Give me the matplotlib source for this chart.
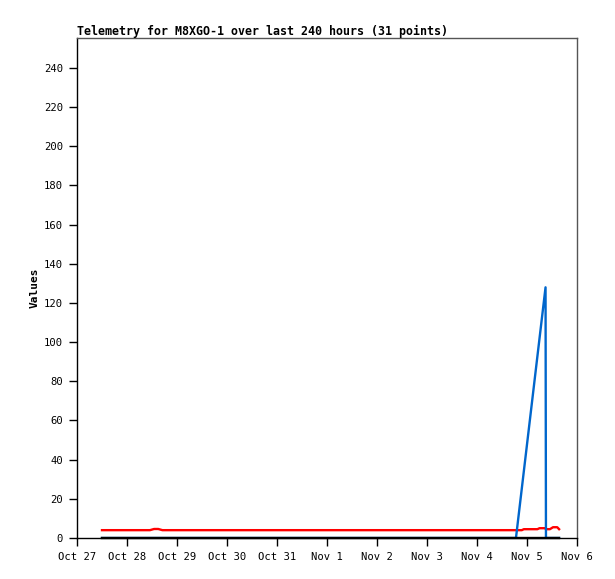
import numpy as np
import matplotlib
matplotlib.use("Agg")
import matplotlib.pyplot as plt

# hours since Oct 27 00:00
HOURS = [12, 20, 35, 37, 39, 41, 52, 64, 76, 88, 100, 112, 124, 136, 148, 160,
         172, 184, 196, 204, 210.7, 213.5, 214.5, 221, 222, 224.9, 225.1, 227,
         228.5, 230.5, 231.4]

RED = [4, 4, 4, 4.6, 4.6, 4, 4, 4, 4, 4, 4, 4, 4, 4, 4, 4,
       4, 4, 4, 4, 4, 4, 4.5, 4.5, 5.0, 5.0, 4.5, 4.5,
       5.5, 5.5, 4.5]
BLUE = [0, 0, 0, 0, 0, 0, 0, 0, 0, 0, 0, 0, 0, 0, 0, 0,
        0, 0, 0, 0, 0, np.nan, np.nan, np.nan, np.nan, 128, 0, 0,
        0, 0, 0]
BLACK = [0] * 31

DAY_LABELS = ['Oct 27', 'Oct 28', 'Oct 29', 'Oct 30', 'Oct 31', 'Nov 1',
              'Nov 2', 'Nov 3', 'Nov 4', 'Nov 5', 'Nov 6']
Y_TICKS = list(range(0, 241, 20))

mono = 'DejaVu Sans Mono'

fig = plt.figure(figsize=(6.15, 5.79), dpi=100)
ax = fig.add_axes([77/615, 41/579, 500/615, 500/579])

x = np.array(HOURS) / 24.0
blue = np.array(BLUE, dtype=float)
ok = np.isfinite(blue)

ax.plot(x, RED, color='#ff0000', lw=1.7)
ax.plot(x[ok], blue[ok], color='#0066cc', lw=1.7)
ax.plot(x, BLACK, color='#000000', lw=1.7, clip_on=False, zorder=3)

ax.set_xlim(0, 10)
ax.set_ylim(0, 255.3)
ax.set_xticks(range(11))
ax.set_xticklabels(DAY_LABELS, fontfamily=mono, fontsize=7.6)
ax.set_yticks(Y_TICKS)
ax.set_yticklabels([str(v) for v in Y_TICKS], fontfamily=mono, fontsize=7.6)
ax.tick_params(direction='out', length=5.5, width=1, colors='black', pad=4.5)

for s in ['left', 'bottom']:
    ax.spines[s].set_color('black')
for s in ['top', 'right']:
    ax.spines[s].set_color('#555555')
for s in ax.spines.values():
    s.set_linewidth(1)

ax.set_ylabel('Values', fontfamily=mono, fontsize=8, fontweight='bold', labelpad=3)
fig.text(77/615, 1 - 31/579, 'Telemetry for M8XGO-1 over last 240 hours (31 points)',
         fontfamily=mono, fontsize=8.4, fontweight='bold', ha='left', va='center')

fig.savefig('out.png', dpi=100)
